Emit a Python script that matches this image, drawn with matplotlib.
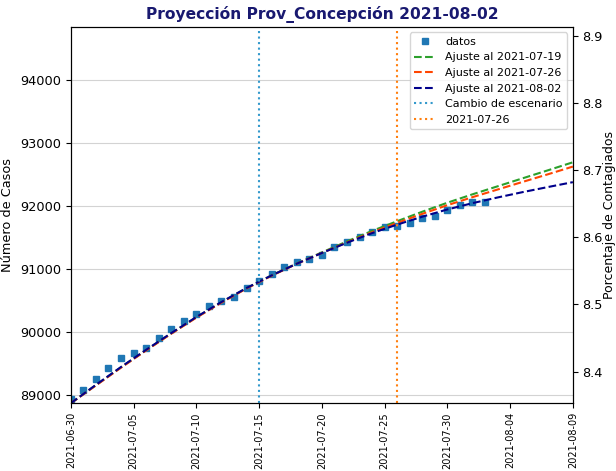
import numpy as np
import pandas as pd
import matplotlib
matplotlib.use('Agg')
import matplotlib.pyplot as plt
import matplotlib.dates as mdates

plt.rcParams['font.size'] = 9.3

# Datos diarios de casos (2021-06-30 a 2021-08-02)
fechas_datos = pd.date_range('2021-06-30', '2021-08-02', freq='D')
casos = [88940, 89090, 89253, 89431, 89590, 89674, 89747, 89911, 90053, 90174,
         90290, 90414, 90493, 90556, 90698, 90818, 90920, 91031, 91120, 91162,
         91225, 91355, 91425, 91513, 91591, 91670, 91686, 91733, 91811, 91838,
         91932, 92020, 92060, 92070]

# Curvas de ajuste (cada 2 dias, 2021-06-30 a 2021-08-09)
fechas_ajuste = pd.date_range('2021-06-30', '2021-08-09', freq='2D')
ajuste_0719 = [88874, 89160, 89443, 89715, 89980, 90236, 90474, 90697, 90900, 91087,
               91264, 91438, 91605, 91759, 91909, 92052, 92185, 92312, 92439, 92565, 92693]
ajuste_0726 = [88874, 89155, 89437, 89710, 89975, 90230, 90468, 90692, 90895, 91083,
               91256, 91423, 91584, 91732, 91875, 92013, 92140, 92261, 92382, 92502, 92625]
ajuste_0802 = [88874, 89165, 89448, 89720, 89985, 90240, 90478, 90700, 90900, 91085,
               91255, 91418, 91570, 91705, 91830, 91945, 92045, 92135, 92220, 92300, 92378]

poblacion = 1064000
cambio_escenario = pd.Timestamp('2021-07-15')
fecha_ajuste = pd.Timestamp('2021-07-26')
ylim_casos = (88874, 94840)

fig = plt.figure(figsize=(6.16, 4.71), dpi=100)
ax = fig.add_axes([0.115, 0.144, 0.815, 0.799])

ax.plot(fechas_datos, casos, 's', color='tab:blue', markersize=4.5, label='datos')
ax.plot(fechas_ajuste, ajuste_0719, '--', color='tab:green', label='Ajuste al 2021-07-19')
ax.plot(fechas_ajuste, ajuste_0726, '--', color='orangered', label='Ajuste al 2021-07-26')
ax.plot(fechas_ajuste, ajuste_0802, '--', color='darkblue', label='Ajuste al 2021-08-02')
ax.axvline(cambio_escenario, linestyle=':', color='#3399cc', label='Cambio de escenario')
ax.axvline(fecha_ajuste, linestyle=':', color='tab:orange', label='2021-07-26')

ax.set_xlim(pd.Timestamp('2021-06-30'), pd.Timestamp('2021-08-09'))
ax.set_ylim(*ylim_casos)
ticks = pd.date_range('2021-06-30', '2021-08-09', freq='5D')
ax.set_xticks(ticks)
ax.xaxis.set_major_formatter(mdates.DateFormatter('%Y-%m-%d'))
ax.tick_params(axis='x', pad=3)
plt.setp(ax.get_xticklabels(), rotation=90, fontsize=7.0)
ax.grid(axis='y', color='lightgray')
ax.set_ylabel('Número de Casos')
ax.set_title('Proyección Prov_Concepción 2021-08-02', fontweight='bold', color='midnightblue')
ax.legend(loc='upper right', fontsize=8)

ax2 = ax.twinx()
ax2.set_ylim(ylim_casos[0] / poblacion * 100, ylim_casos[1] / poblacion * 100)
ax2.set_ylabel('Porcentaje de Contagiados', labelpad=0, fontsize=9)

fig.savefig('out.png', dpi=100)
